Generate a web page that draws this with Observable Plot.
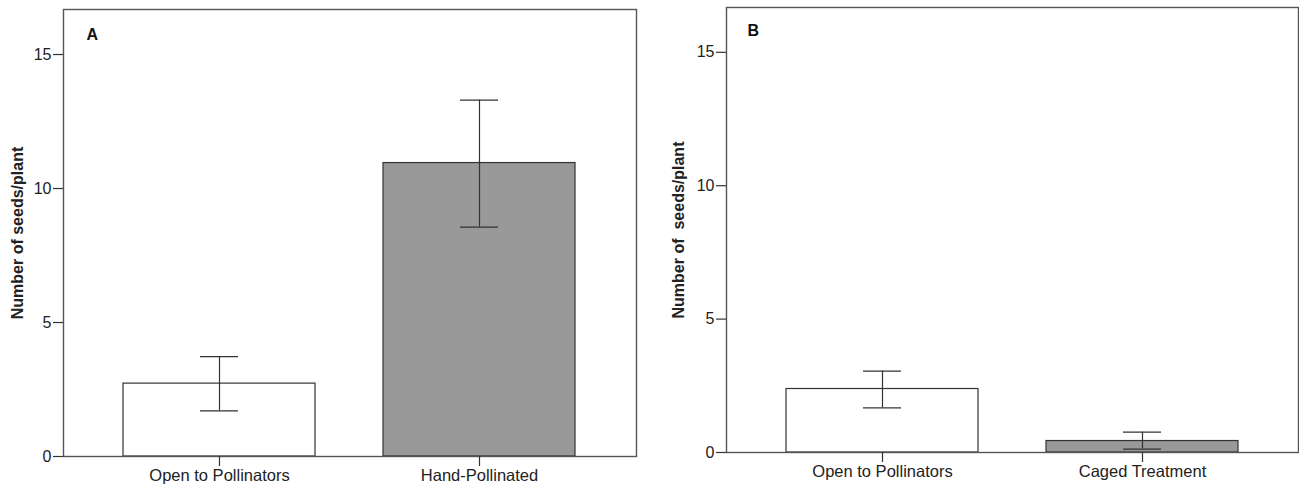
<!DOCTYPE html>
<html>
<head>
<meta charset="utf-8">
<script src="https://cdn.jsdelivr.net/npm/d3@7"></script>
<script src="https://cdn.jsdelivr.net/npm/@observablehq/plot@0.6"></script>
<style>
  html, body { margin: 0; padding: 0; background: #fff; }
  #wrap { display: flex; width: 1299px; height: 488px; }
  svg { font-family: "Liberation Sans", Arial, sans-serif; }
</style>
</head>
<body>
<div id="wrap"></div>
<script>
// Panel A
const catsA = ["Open to Pollinators", "Hand-Pollinated"];
const meanA = [2.72, 10.95];
const loA = [1.70, 8.56];
const hiA = [3.73, 13.30];
const fillA = ["#ffffff", "#999999"];

// Panel B
const catsB = ["Open to Pollinators", "Caged Treatment"];
const meanB = [2.38, 0.43];
const loB = [1.67, 0.13];
const hiB = [3.05, 0.76];
const fillB = ["#ffffff", "#999999"];

const yTicks = [0, 5, 10, 15];

function panel({cats, mean, lo, hi, fill, letter, yLabel, width, ml, mr, mt, mb, labelOffset, ldx, ldy}) {
  const data = cats.map((c, i) => ({cat: c, mean: mean[i], lo: lo[i], hi: hi[i], fill: fill[i]}));
  return Plot.plot({
    width, height: 488,
    marginLeft: ml, marginRight: mr, marginTop: mt, marginBottom: mb,
    style: {fontFamily: "Liberation Sans, Arial, sans-serif", color: "#222", background: "#fff"},
    x: {domain: cats, paddingInner: 0.26, paddingOuter: 0.23, label: null},
    y: {domain: [0, 16.68], label: null},
    marks: [
      Plot.barY(data, {x: "cat", y: "mean", fill: "fill", stroke: "#333", strokeWidth: 1.2}),
      Plot.ruleX(data, {x: "cat", y1: "lo", y2: "hi", stroke: "#333", strokeWidth: 1.2}),
      Plot.tickY(data, {x: "cat", y: "hi", stroke: "#333", strokeWidth: 1.2, insetLeft: 77, insetRight: 77}),
      Plot.tickY(data, {x: "cat", y: "lo", stroke: "#333", strokeWidth: 1.2, insetLeft: 77, insetRight: 77}),
      Plot.frame({stroke: "#555", strokeWidth: 1.4}),
      Plot.axisY({ticks: yTicks, tickSize: 10, tickPadding: 2, fontSize: 16, stroke: "#333", strokeWidth: 1.2,
        label: yLabel, labelAnchor: "center", labelArrow: "none", labelOffset}),
      Plot.axisX({tickSize: 10, tickPadding: 3, fontSize: 16.5, stroke: "#333", strokeWidth: 1.2}),
      Plot.text([letter], {frameAnchor: "top-left", text: d => d, dx: ldx, dy: ldy,
        textAnchor: "start", lineAnchor: "middle", fontWeight: "bold", fontSize: 16, fill: "#111"})
    ]
  });
}

const wrap = document.getElementById("wrap");
const a = panel({cats: catsA, mean: meanA, lo: loA, hi: hiA, fill: fillA, letter: "A",
  yLabel: "Number of seeds/plant", width: 650, ml: 63, mr: 14, mt: 9, mb: 32, labelOffset: 52, ldx: 23, ldy: 25});
const b = panel({cats: catsB, mean: meanB, lo: loB, hi: hiB, fill: fillB, letter: "B",
  yLabel: "Number of  seeds/plant", width: 649, ml: 76, mr: 1, mt: 7, mb: 36, labelOffset: 54, ldx: 21, ldy: 23});
// bold axis titles
for (const svg of [a, b]) {
  svg.querySelectorAll("[aria-label='y-axis label'] text, [aria-label='y-axis label']").forEach(t => {
    t.setAttribute("font-weight", "bold");
  });
  wrap.appendChild(svg);
}
</script>
</body>
</html>
